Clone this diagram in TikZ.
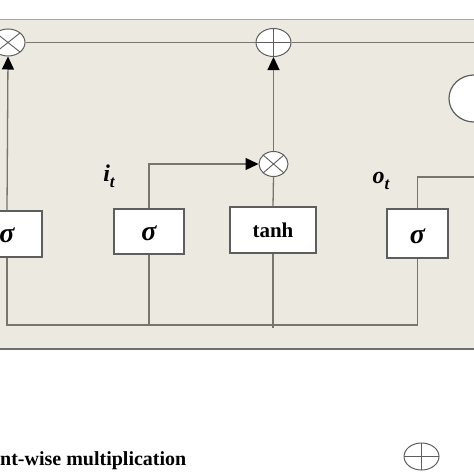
\documentclass[tikz,border=0pt]{standalone}
\usepackage{fontspec}
\setmainfont{Liberation Serif}
\usetikzlibrary{shapes.geometric,arrows.meta}
\definecolor{panel}{HTML}{ECE9E0}
\definecolor{wire}{HTML}{77756D}
\definecolor{edge}{HTML}{5E5E5E}
\tikzset{
  opnode/.style={ellipse,draw=edge,fill=white,line width=1pt,inner sep=0pt},
  mulnode/.style={opnode,path picture={\draw[edge,line width=0.9pt]
      (path picture bounding box.north west)--(path picture bounding box.south east)
      (path picture bounding box.north east)--(path picture bounding box.south west);}},
  addnode/.style={opnode,path picture={\draw[edge,line width=0.9pt]
      (path picture bounding box.north)--(path picture bounding box.south)
      (path picture bounding box.west)--(path picture bounding box.east);}},
  gatebox/.style={draw=edge,fill=white,line width=1.2pt,inner sep=0pt},
  wireline/.style={draw=wire,line width=1.3pt},
  tip/.style={-{Triangle[length=13pt,width=12pt,color=black]}},
  sig/.style={font=\fontsize{28}{28}\selectfont\bfseries\itshape},
  lbl/.style={font=\fontsize{24}{24}\selectfont\bfseries\itshape},
}
\newcommand{\subt}{\raisebox{-6pt}{\fontsize{17}{17}\selectfont t}}
\begin{document}
\begin{tikzpicture}[x=1pt,y=-1pt]
\clip (0,0) rectangle (474,474);
% panel
\fill[panel] (-10,20) rectangle (490,349);
\draw[color=gray!70,line width=1.2pt] (-10,19.5) -- (490,19.5);
\draw[color=edge!90,line width=2pt] (-10,349) -- (490,349);
% cell state line
\coordinate (cellR) at (490,42.5);
\node[mulnode,minimum width=34pt,minimum height=27pt] (mulL) at (8,42.5) {};
\node[addnode,minimum width=35pt,minimum height=28pt] (addT) at (273.5,42.5) {};
\draw[wireline] (mulL.east) -- (addT.west);
\draw[wireline] (addT.east) -- (cellR);
% right ellipse
\node[ellipse,draw=edge,fill=white,line width=1.2pt,minimum width=50pt,minimum height=47pt] (outE) at (474,98.5) {};
% middle multiplication
\node[mulnode,minimum width=29pt,minimum height=25pt] (mulM) at (273.5,164) {};
% gate boxes
\node[gatebox,minimum width=70pt,minimum height=46pt] (fB) at (7,234) {};
\node[sig] at (7,235) {σ};
\node[gatebox,minimum width=70pt,minimum height=45pt] (iB) at (149,231.5) {};
\node[sig] at (149,233) {σ};
\node[gatebox,minimum width=86pt,minimum height=46pt,font=\fontsize{21}{21}\selectfont\bfseries] (tB) at (273,230) {tanh};
\node[gatebox,minimum width=61pt,minimum height=49pt] (oB) at (417.5,233.5) {};
\node[sig] at (417.5,236) {σ};
% labels
\node[lbl] (iL) at (109,176) {i\subt};
\node[lbl] (oL) at (381,181) {o\subt};
% connectors
\draw[wireline,tip] (fB.north) -- (mulL.south);
\draw[wireline] (tB.north) -- (mulM.south);
\draw[wireline,tip] (mulM.north) -- (addT.south);
\draw[wireline,tip] (iB.north) |- (mulM.west);
\coordinate (oR) at (490,177);
\draw[wireline] (oB.north) |- (oR);
% bottom bus
\coordinate (busL) at (7,325);
\coordinate (busR) at (417.5,325);
\draw[wireline] (fB.south) -- (busL) -- (busR) -- (oB.south);
\draw[wireline] (iB.south) -- (iB.south |- busL);
\coordinate (tEnd) at (273,328);
\draw[wireline] (tB.south) -- (tEnd);
% legend
\node[anchor=base west,font=\fontsize{20}{20}\selectfont\bfseries,inner sep=0pt] (legT) at (0,465) {nt-wise multiplication};
\node[addnode,minimum width=35pt,minimum height=27pt] (legP) at (421.5,456.5) {};
\end{tikzpicture}
\end{document}
